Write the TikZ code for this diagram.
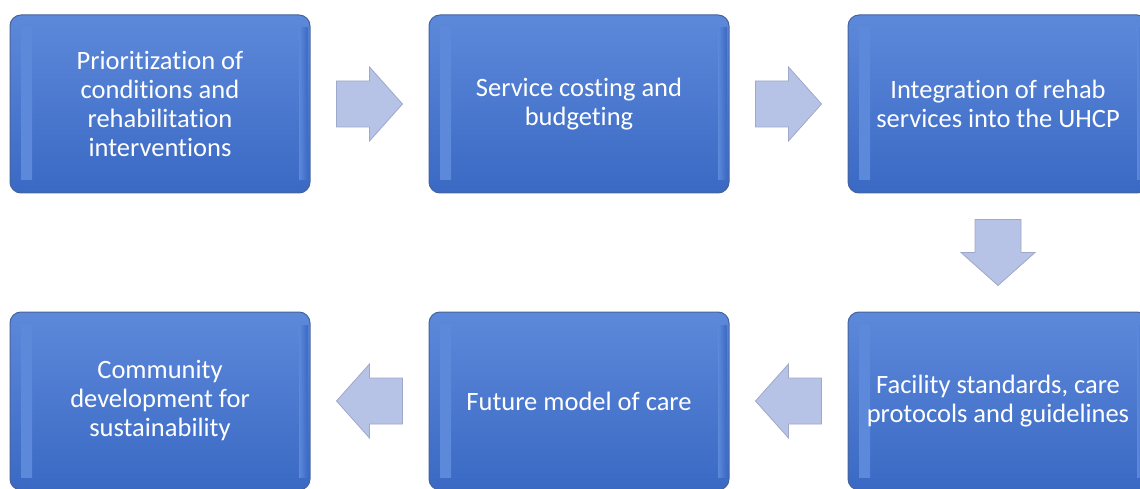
\documentclass[tikz,border=0pt]{standalone}
\usepackage{fontspec}
\setmainfont{Carlito}[Ligatures={NoCommon}]
\usetikzlibrary{calc}

\definecolor{boxtop}{HTML}{5D89DA}
\definecolor{boxbottom}{HTML}{3A69C4}
\definecolor{boxedge}{HTML}{46639C}
\definecolor{glintleft}{HTML}{88AFEC}
\definecolor{glintright}{HTML}{C6DEFB}
\definecolor{flowfill}{HTML}{B7C3E6}
\definecolor{flowedge}{HTML}{9EA8C8}

\tikzset{flowarrow/.pic={
    \draw[flow] (-33,-23) -- (0,-23) -- (0,-37) -- (33,0) -- (0,37) -- (0,23) -- (-33,23) -- cycle;
}}

\begin{document}
\begin{tikzpicture}[x=1pt,y=-1pt,align=center]
    \tikzstyle{stage} = [draw=boxedge,line width=1pt,rounded corners=11pt,top color=boxtop,bottom color=boxbottom,
      minimum width=300pt,minimum height=178pt,text=white,font=\fontsize{26.5}{29}\selectfont,
      path picture={
        % soft glints along the side edges
        \shade[sharp corners,left color=boxtop,middle color=glintleft,right color=boxtop] ([xshift=11pt,yshift=-13pt]path picture bounding box.north west) rectangle ([xshift=22pt,yshift=13pt]path picture bounding box.south west);
        \shade[sharp corners,left color=boxtop,middle color=glintright,right color=boxbottom] ([xshift=-11pt,yshift=-13pt]path picture bounding box.north east) rectangle ([xshift=-2pt,yshift=13pt]path picture bounding box.south east);
      }]
    \tikzstyle{flow} = [fill=flowfill,draw=flowedge,line width=0.8pt]
    \useasboundingbox (0,0) rectangle (1140,489);
      \node[stage] (prio) at (160,104) {Prioritization of\\conditions and\\rehabilitation\\interventions};
      \node[stage] (costing) at (579,104) {Service costing and\\budgeting};
      \node[stage] (integration) at (998,104) {Integration of rehab\\services into the UHCP};
      \node[stage] (standards) at (998,401) {Facility standards, care\\protocols and guidelines};
      \node[stage] (model) at (579,401) {Future model of care};
      \node[stage] (community) at (160,401) {Community\\development for\\sustainability};
      \pic at ($ (prio.east)!.5!(costing.west) $) {flowarrow};
      \pic at ($ (costing.east)!.5!(integration.west) $) {flowarrow};
      \pic[rotate=-90] at ($ (integration.south)!.5!(standards.north) $) {flowarrow};
      \pic[rotate=180] at ($ (standards.west)!.5!(model.east) $) {flowarrow};
      \pic[rotate=180] at ($ (model.west)!.5!(community.east) $) {flowarrow};
  \end{tikzpicture}
\end{document}
